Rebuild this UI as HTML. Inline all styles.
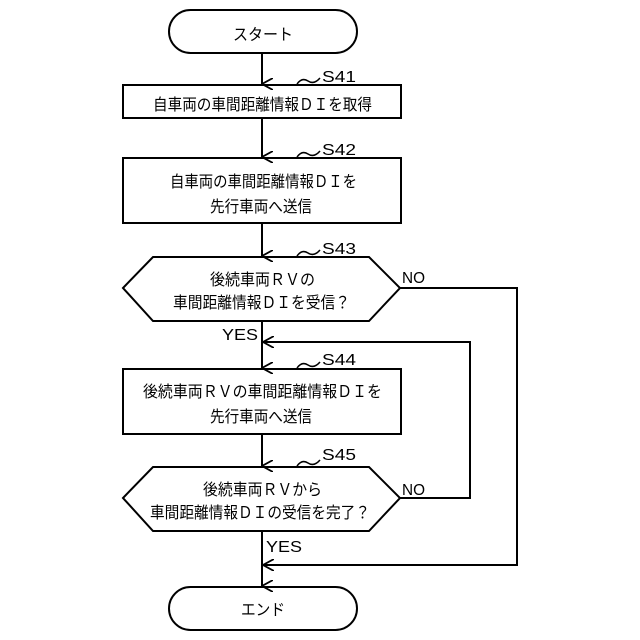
<!DOCTYPE html>
<html><head><meta charset="utf-8"><style>html,body{margin:0;padding:0;background:#fff}svg{display:block}
text{font-family:"Liberation Sans","Noto Sans CJK JP",sans-serif;font-size:16px;fill:#000}</style></head>
<body>
<svg width="640" height="640" viewBox="0 0 640 640" xmlns="http://www.w3.org/2000/svg">
<defs><marker id="a" markerWidth="12" markerHeight="12" refX="6" refY="11" orient="auto" markerUnits="userSpaceOnUse"><path d="M0,0 L6,11 L12,0" fill="none" stroke="#000" stroke-width="1.8"/></marker>
<marker id="l" markerWidth="12" markerHeight="12" refX="11" refY="6" orient="auto" markerUnits="userSpaceOnUse"><path d="M0,0 L11,6 L0,12" fill="none" stroke="#000" stroke-width="1.8"/></marker></defs>
<g fill="none" stroke="#000" stroke-width="2">
<rect x="169" y="10" width="188" height="43" rx="21.5"/>
<rect x="123" y="85" width="278" height="33"/>
<rect x="123" y="158" width="278" height="65"/>
<path d="M123,288 L153,257 L369,257 L400,288 L369,321 L153,321 Z"/>
<rect x="123" y="369" width="278" height="65"/>
<path d="M123,498 L153,467 L369,467 L400,498 L369,531 L153,531 Z"/>
<rect x="169" y="587" width="188" height="43" rx="21.5"/>
<line x1="262" y1="53" x2="262" y2="84" marker-end="url(#a)"/>
<line x1="262" y1="118" x2="262" y2="157" marker-end="url(#a)"/>
<line x1="262" y1="223" x2="262" y2="256" marker-end="url(#a)"/>
<line x1="262" y1="321" x2="262" y2="368" marker-end="url(#a)"/>
<line x1="262" y1="434" x2="262" y2="466" marker-end="url(#a)"/>
<line x1="262" y1="531" x2="262" y2="586" marker-end="url(#a)"/>
<polyline points="400,288 517,288 517,565 263,565" marker-end="url(#l)"/>
<polyline points="400,498 470,498 470,342 263,342" marker-end="url(#l)"/>
<g stroke-width="1.5">
<path d="M297,84 q5,-7 11,-3 q6,4 12,-3"/>
<path d="M297,157 q5,-7 11,-3 q6,4 12,-3"/>
<path d="M297,256 q5,-7 11,-3 q6,4 12,-3"/>
<path d="M297,368 q5,-7 11,-3 q6,4 12,-3"/>
<path d="M297,466 q5,-7 11,-3 q6,4 12,-3"/>
</g></g>
<text x="233" y="40" textLength="60" lengthAdjust="spacingAndGlyphs">スタート</text>
<text x="153" y="110" textLength="219" lengthAdjust="spacingAndGlyphs">自車両の車間距離情報ＤＩを取得</text>
<text x="170" y="187" textLength="187" lengthAdjust="spacingAndGlyphs">自車両の車間距離情報ＤＩを</text>
<text x="210" y="212" textLength="102" lengthAdjust="spacingAndGlyphs">先行車両へ送信</text>
<text x="210" y="285" textLength="105" lengthAdjust="spacingAndGlyphs">後続車両ＲＶの</text>
<text x="173" y="308" textLength="177" lengthAdjust="spacingAndGlyphs">車間距離情報ＤＩを受信？</text>
<text x="143" y="397" textLength="239" lengthAdjust="spacingAndGlyphs">後続車両ＲＶの車間距離情報ＤＩを</text>
<text x="210" y="422" textLength="102" lengthAdjust="spacingAndGlyphs">先行車両へ送信</text>
<text x="203" y="495" textLength="119" lengthAdjust="spacingAndGlyphs">後続車両ＲＶから</text>
<text x="150" y="518" textLength="220" lengthAdjust="spacingAndGlyphs">車間距離情報ＤＩの受信を完了？</text>
<text x="241" y="615" textLength="44" lengthAdjust="spacingAndGlyphs">エンド</text>
<text x="322" y="82" textLength="34" lengthAdjust="spacingAndGlyphs">S41</text>
<text x="322" y="155" textLength="34" lengthAdjust="spacingAndGlyphs">S42</text>
<text x="322" y="254" textLength="34" lengthAdjust="spacingAndGlyphs">S43</text>
<text x="322" y="365" textLength="34" lengthAdjust="spacingAndGlyphs">S44</text>
<text x="322" y="460" textLength="34" lengthAdjust="spacingAndGlyphs">S45</text>
<text x="402" y="283" textLength="23" lengthAdjust="spacingAndGlyphs">NO</text>
<text x="402" y="495" textLength="23" lengthAdjust="spacingAndGlyphs">NO</text>
<text x="222" y="340" textLength="36" lengthAdjust="spacingAndGlyphs">YES</text>
<text x="266" y="552" textLength="36" lengthAdjust="spacingAndGlyphs">YES</text>
</svg>
</body></html>
